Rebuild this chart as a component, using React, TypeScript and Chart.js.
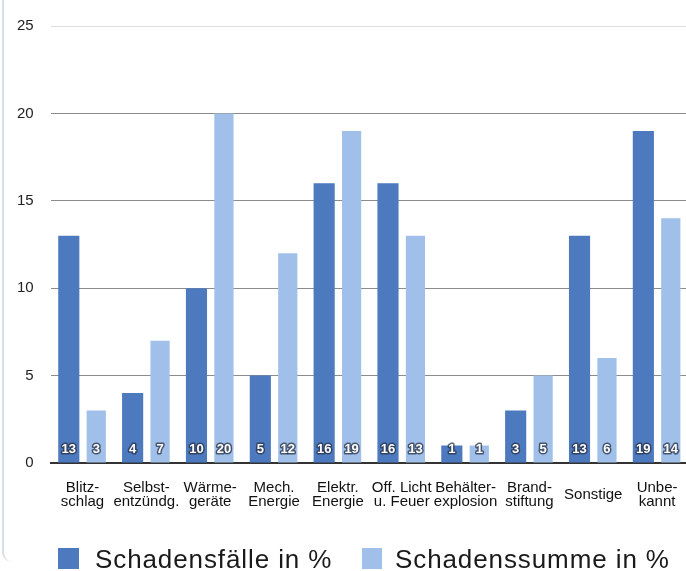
import React, { useEffect, useRef } from "react";
import { Chart, registerables } from "chart.js";

Chart.register(...registerables);

const categories: (string | string[])[] = [
  ["Blitz-", "schlag"],
  ["Selbst-", "entzündg."],
  ["Wärme-", "geräte"],
  ["Mech.", "Energie"],
  ["Elektr.", "Energie"],
  ["Off. Licht", "u. Feuer"],
  ["Behälter-", "explosion"],
  ["Brand-", "stiftung"],
  "Sonstige",
  ["Unbe-", "kannt"],
];
const schadensfaelle = [13, 4, 10, 5, 16, 16, 1, 3, 13, 19];
const schadenssumme = [3, 7, 20, 12, 19, 13, 1, 5, 6, 14];
const seriesNames = ["Schadensfälle in %", "Schadenssumme in %"];
const yTicks = [0, 5, 10, 15, 20, 25];

const DARK = "#4d79bf";
const LIGHT = "#a0c0ea";
const FONT = "'Liberation Sans', Arial, Helvetica, sans-serif";

const valueLabels = {
  id: "valueLabels",
  afterDatasetsDraw(chart: any) {
    const ctx = chart.ctx;
    ctx.save();
    ctx.font = `bold 13px ${FONT}`;
    ctx.textAlign = "center";
    ctx.textBaseline = "middle";
    ctx.lineJoin = "round";
    chart.data.datasets.forEach((ds: any, di: number) => {
      const meta = chart.getDatasetMeta(di);
      meta.data.forEach((bar: any, i: number) => {
        const txt = String(ds.data[i]);
        const y = bar.base - 13;
        ctx.lineWidth = 3;
        ctx.strokeStyle = "rgba(40,50,70,0.75)";
        ctx.strokeText(txt, bar.x, y);
        ctx.fillStyle = "#ffffff";
        ctx.fillText(txt, bar.x, y);
      });
    });
    ctx.restore();
  },
};

function ChartCanvas() {
  const ref = useRef<HTMLCanvasElement>(null);
  useEffect(() => {
    if (!ref.current) return;
    const chart = new Chart(ref.current, {
      type: "bar",
      data: {
        labels: categories,
        datasets: [
          {
            label: seriesNames[0],
            data: schadensfaelle,
            backgroundColor: DARK,
            categoryPercentage: 0.86,
            barPercentage: 0.77,
          },
          {
            label: seriesNames[1],
            data: schadenssumme,
            backgroundColor: LIGHT,
            categoryPercentage: 0.86,
            barPercentage: 0.7,
          },
        ],
      },
      options: {
        animation: false,
        responsive: false,
        maintainAspectRatio: false,
        layout: { padding: { left: 0, right: 0, top: 22, bottom: 0 } },
        plugins: {
          legend: { display: false },
          tooltip: { enabled: false },
        },
        scales: {
          x: {
            grid: { display: false, drawTicks: false },
            border: { display: true, color: "#333333", width: 2 },
            ticks: {
              color: "#111111",
              font: { family: FONT, size: 15, lineHeight: 0.95 },
              padding: 25,
              crossAlign: "center",
              maxRotation: 0,
              autoSkip: false,
            },
            afterFit(scale: any) {
              scale.height = 108;
              scale.paddingLeft = 0;
              scale.paddingRight = 0;
            },
          },
          y: {
            min: 0,
            max: 25,
            afterBuildTicks(scale: any) {
              scale.ticks = yTicks.map((v) => ({ value: v }));
            },
            grid: {
              drawTicks: false,
              color: (c: any) =>
                c.tick && c.tick.value === 25
                  ? "#dedede"
                  : c.tick && c.tick.value === 0
                  ? "rgba(0,0,0,0)"
                  : "#8c8c8c",
              lineWidth: 1,
            },
            border: { display: false },
            ticks: {
              color: "#222222",
              font: { family: FONT, size: 15 },
              padding: 17,
            },
            afterFit(scale: any) {
              scale.width = 50.6;
            },
          },
        },
      },
      plugins: [valueLabels],
    });
    return () => chart.destroy();
  }, []);
  return <canvas ref={ref} width={689} height={571} style={{ display: "block" }} />;
}

export default function App() {
  const legendText: React.CSSProperties = {
    position: "absolute",
    top: 546,
    fontFamily: FONT,
    fontSize: 26,
    lineHeight: "26px",
    letterSpacing: "0.9px",
    color: "#1a1a1a",
    whiteSpace: "nowrap",
  };
  return (
    <div
      style={{
        position: "fixed",
        left: 0,
        top: 0,
        width: 686,
        height: 571,
        overflow: "hidden",
        background: "#ffffff",
      }}
    >
      <ChartCanvas />
      <div
        style={{
          position: "absolute",
          left: 2,
          top: 0,
          width: 10,
          height: 562,
          borderLeft: "2px solid #d8dce4",
          borderBottomLeftRadius: 10,
        }}
      />
      <div style={{ position: "absolute", left: 58, top: 548, width: 21, height: 21, background: DARK }} />
      <div style={{ ...legendText, left: 95 }}>{seriesNames[0]}</div>
      <div style={{ position: "absolute", left: 362, top: 548, width: 20, height: 21, background: LIGHT }} />
      <div style={{ ...legendText, left: 395 }}>{seriesNames[1]}</div>
    </div>
  );
}
